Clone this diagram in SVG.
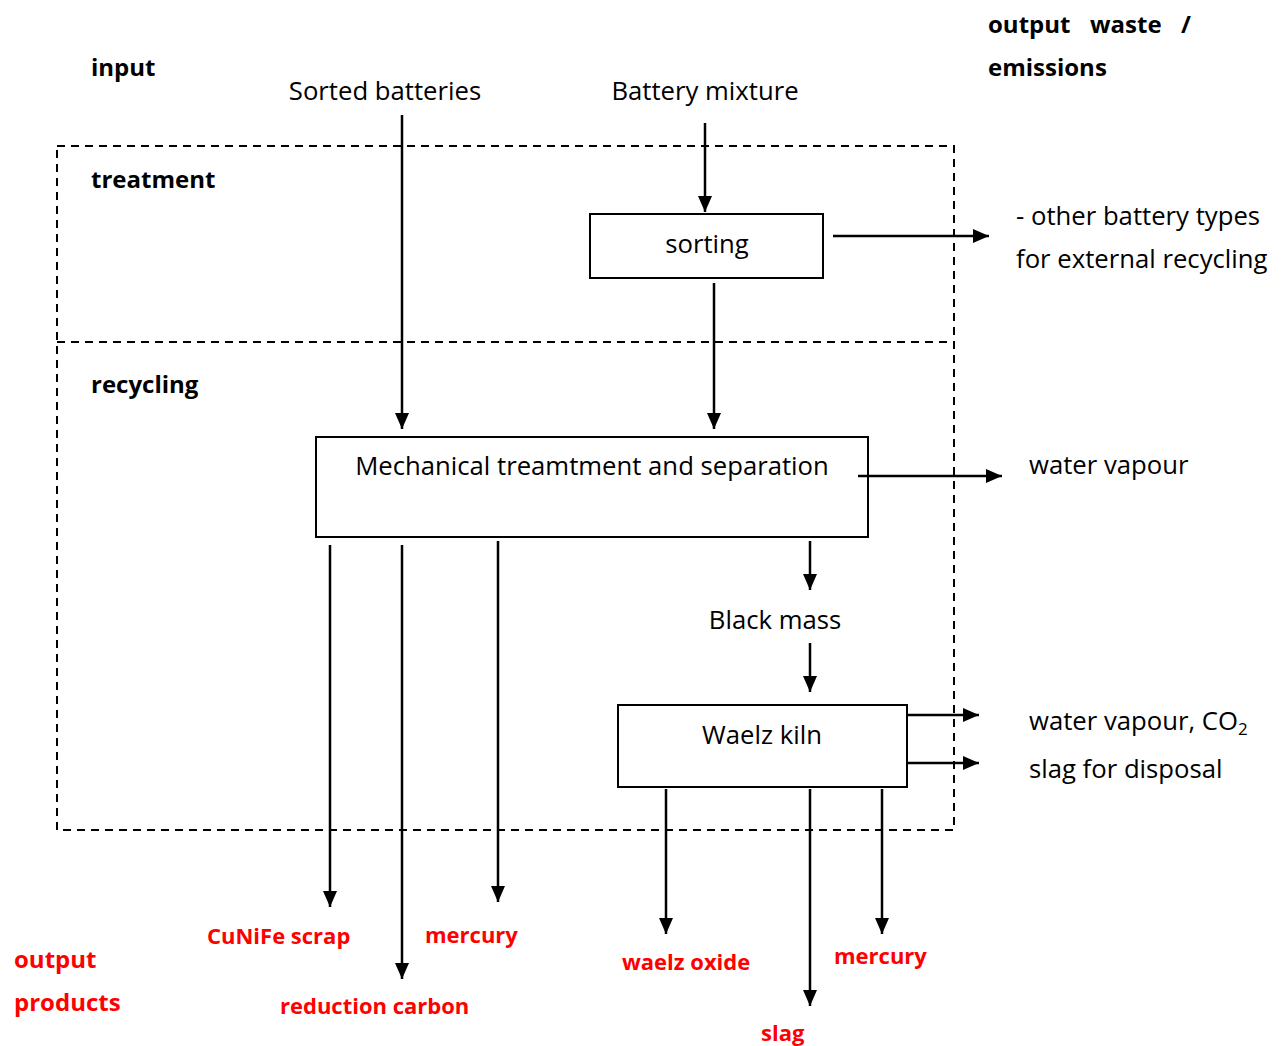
<svg xmlns="http://www.w3.org/2000/svg" width="1284" height="1046" viewBox="0 0 1284 1046">
  <style>
    text { font-family: "Open Sans", "Liberation Sans", sans-serif; font-size: 25.7px; fill: #000; }
    .b { font-weight: bold; font-size: 24px; }
    .red { font-weight: bold; fill: #ff0000; font-size: 22px; }
    .redbig { font-weight: bold; fill: #ff0000; font-size: 24px; }
    .box { fill: #fff; stroke: #000; stroke-width: 2; }
    .zone { fill: none; stroke: #000; stroke-width: 2; stroke-dasharray: 8 6; }
    .flow { stroke: #000; stroke-width: 2.5; fill: none; marker-end: url(#head); }
  </style>
  <defs>
    <marker id="head" markerUnits="userSpaceOnUse" markerWidth="16" markerHeight="16" viewBox="0 0 16 16" refX="16" refY="8" orient="auto">
      <path d="M0,1 L16,8 L0,15 Z" fill="#000"/>
    </marker>
  </defs>
  <rect width="1284" height="1046" fill="#fff"/>

  <!-- process zones -->
  <g id="zones">
    <rect class="zone" x="57" y="146" width="897" height="684"/>
    <line class="zone" x1="57" y1="342" x2="954" y2="342"/>
  </g>

  <!-- column and zone headings -->
  <g id="headings">
    <text class="b" x="91" y="76">input</text>
    <text class="b" y="33"><tspan x="988">output</tspan><tspan x="1090">waste</tspan><tspan x="1181">/</tspan></text>
    <text class="b" x="988" y="76">emissions</text>
    <text class="b" x="91" y="188">treatment</text>
    <text class="b" x="91" y="393">recycling</text>
    <text class="redbig" x="14" y="968">output</text>
    <text class="redbig" x="14" y="1011">products</text>
  </g>

  <!-- inputs -->
  <g id="sorted-batteries"><text x="385" y="100" text-anchor="middle">Sorted batteries</text></g>
  <g id="battery-mixture"><text x="705" y="100" text-anchor="middle">Battery mixture</text></g>

  <!-- treatment -->
  <g id="sorting">
    <rect class="box" x="590" y="214" width="233" height="64"/>
    <text x="707" y="253" text-anchor="middle">sorting</text>
  </g>
  <g id="other-types">
    <text x="1016" y="225">- other battery types</text>
    <text x="1016" y="268">for external recycling</text>
  </g>

  <!-- recycling -->
  <g id="mechanical">
    <rect class="box" x="316" y="437" width="552" height="100"/>
    <text x="592" y="475" text-anchor="middle">Mechanical treamtment and separation</text>
  </g>
  <g id="water-vapour"><text x="1029" y="474">water vapour</text></g>
  <g id="black-mass"><text x="775" y="629" text-anchor="middle">Black mass</text></g>
  <g id="waelz-kiln">
    <rect class="box" x="618" y="705" width="289" height="82"/>
    <text x="762" y="744" text-anchor="middle">Waelz kiln</text>
  </g>
  <g id="kiln-emissions">
    <text x="1029" y="730">water vapour, CO<tspan font-size="17" dy="5">2</tspan></text>
  </g>
  <g id="slag-disposal"><text x="1029" y="778">slag for disposal</text></g>

  <!-- output products -->
  <g id="cunife-scrap"><text class="red" x="207" y="944">CuNiFe scrap</text></g>
  <g id="mercury-1"><text class="red" x="425" y="943">mercury</text></g>
  <g id="reduction-carbon"><text class="red" x="280" y="1014">reduction carbon</text></g>
  <g id="waelz-oxide"><text class="red" x="622" y="970">waelz oxide</text></g>
  <g id="mercury-2"><text class="red" x="834" y="964">mercury</text></g>
  <g id="slag"><text class="red" x="761" y="1041">slag</text></g>

  <!-- connectors -->
  <g id="connectors">
    <line class="flow" x1="402" y1="115" x2="402" y2="429"/>
    <line class="flow" x1="705" y1="123" x2="705" y2="212"/>
    <line class="flow" x1="833" y1="236" x2="989" y2="236"/>
    <line class="flow" x1="714" y1="283" x2="714" y2="429"/>
    <line class="flow" x1="858" y1="476" x2="1002" y2="476"/>
    <line class="flow" x1="330" y1="545" x2="330" y2="907"/>
    <line class="flow" x1="402" y1="545" x2="402" y2="979"/>
    <line class="flow" x1="498" y1="541" x2="498" y2="902"/>
    <line class="flow" x1="810" y1="541" x2="810" y2="590"/>
    <line class="flow" x1="810" y1="643" x2="810" y2="692"/>
    <line class="flow" x1="907" y1="715" x2="979" y2="715"/>
    <line class="flow" x1="907" y1="763" x2="979" y2="763"/>
    <line class="flow" x1="666" y1="789" x2="666" y2="934"/>
    <line class="flow" x1="810" y1="789" x2="810" y2="1006"/>
    <line class="flow" x1="882" y1="789" x2="882" y2="934"/>
  </g>
</svg>
